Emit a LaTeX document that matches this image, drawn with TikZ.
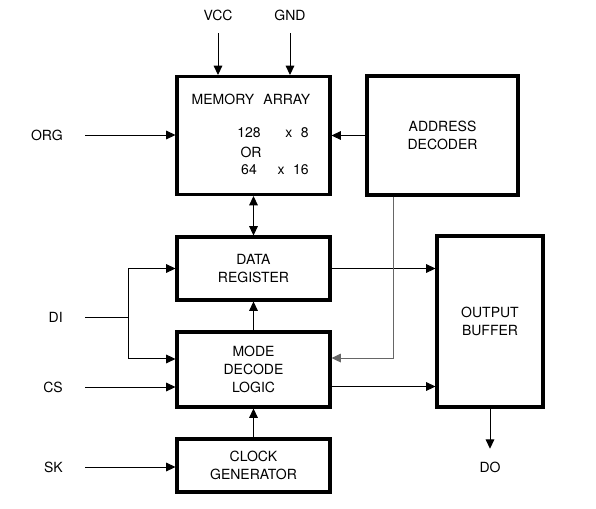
\documentclass[tikz,border=0pt]{standalone}
\usepackage{fontspec}
\setmainfont{TeX Gyre Heros}
\usetikzlibrary{arrows.meta, positioning}

\begin{document}
\begin{tikzpicture}[x=0.75pt, y=-0.75pt, >={Triangle[length=7pt,width=6.5pt]},
    block/.style={draw, line width=2.3pt, align=center, inner sep=0pt,
        font=\fontsize{10.5}{13.5}\selectfont},
    sigtext/.style={inner xsep=16.5pt, inner ysep=9.5pt,
        font=\fontsize{10.5}{13.5}\selectfont},
    celltext/.style={inner sep=0pt, font=\fontsize{10.5}{13.5}\selectfont},
    wire/.style={line width=0.75pt},
    arr/.style={wire, ->}]
    \useasboundingbox (0,0) rectangle (596,508);

    % Draw the blocks
    \node[block, minimum width=114.75pt, minimum height=88.5pt] (mem) at (253.5,135.5) {};
    \node[block, minimum width=113.25pt, minimum height=89.25pt] (addr) at (442.5,135.5) {ADDRESS\\DECODER};
    \node[block, minimum width=114.75pt, minimum height=47.25pt] (data) at (253.5,268.5) {DATA\\REGISTER};
    \node[block, minimum width=114.75pt, minimum height=56.25pt] (mode) at (253.5,369.5) {MODE\\DECODE\\LOGIC};
    \node[block, minimum width=114.75pt, minimum height=39.75pt] (clock) at (253.5,465.5) {CLOCK\\GENERATOR};
    \node[block, minimum width=79.5pt, minimum height=128.25pt] (outbuf) at (490,321.5) {OUTPUT\\BUFFER};

    % Draw the text inside the memory array
    \node[celltext] (memtitle) at (251,99) {MEMORY\hspace{7pt}ARRAY};
    \node[celltext] (wide) at (249,133) {128};
    \node[celltext, anchor=east] (wideorg) at (309,133) {x\hspace{6.5pt}8};
    \node[celltext] (orword) at (251,152) {OR};
    \node[celltext] (narrow) at (249,170) {64};
    \node[celltext, anchor=east] (narroworg) at (309,170) {x\hspace{6.5pt}16};

    % Draw the pins
    \node[sigtext] (vcc) at (218,15) {VCC};
    \node[sigtext] (gnd) at (290,15) {GND};
    \node[sigtext, anchor=east] (org) at (85,135) {ORG};
    \node[sigtext, anchor=east] (di) at (85,317) {DI};
    \node[sigtext, anchor=east] (cs) at (85,387) {CS};
    \node[sigtext, anchor=east] (sk) at (85,467) {SK};
    \node[sigtext] (do) at (490,467) {DO};
    \coordinate (dijoin) at (128,317);

    % Draw the supply and control inputs
    \draw[arr] (vcc) -- (vcc |- mem.north);
    \draw[arr] (gnd) -- (gnd |- mem.north);
    \draw[arr] (org.east) -- (org.east -| mem.west);
    \draw[arr] (cs.east) -- (cs.east -| mode.west);
    \draw[arr] (sk.east) -- (sk.east -| clock.west);

    % Draw the data input branch
    \draw[wire] (di.east) -- (dijoin);
    \draw[arr] (dijoin) |- (data.west);
    \draw[arr] (dijoin) |- ([yshift=7.9pt]mode.west);

    % Draw the links between the blocks
    \draw[arr] (addr.west) -- (mem.east);
    \draw[wire, <->] (mem) -- (data);
    \draw[arr] (mode) -- (data);
    \draw[arr] (clock) -- (mode);
    \draw[arr] (data.east) -- (data.east -| outbuf.west);
    \draw[arr] ([yshift=-12.75pt]mode.east) -- ([yshift=-12.75pt]mode.east -| outbuf.west);
    \draw[arr, black!60] ([xshift=-36.4pt]addr.south) |- ([yshift=8.6pt]mode.east);
    \draw[arr] (outbuf) -- (do);
\end{tikzpicture}
\end{document}
